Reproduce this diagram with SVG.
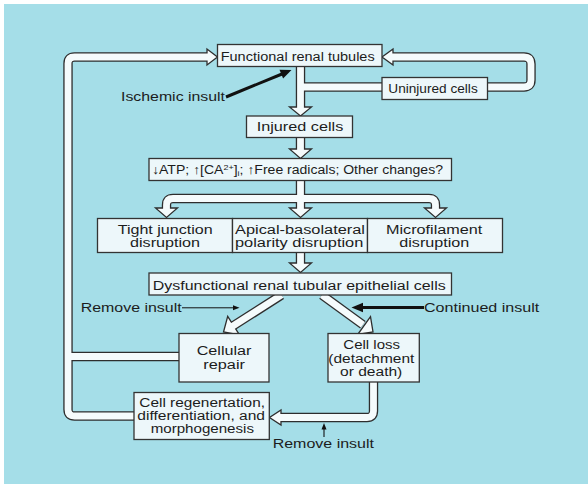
<svg xmlns="http://www.w3.org/2000/svg" width="588" height="484" viewBox="0 0 588 484">
<style>
.dk{fill:none;stroke:#2e2e2e;stroke-width:9.4;stroke-linejoin:miter}
.wt{fill:none;stroke:#f5fbfc;stroke-width:6.8;stroke-linejoin:miter}
.hd{fill:#f5fbfc;stroke:#2e2e2e;stroke-width:1.3;stroke-linejoin:miter}
.box{fill:#edf7fa;stroke:#333;stroke-width:1.3}
.t{font-family:"Liberation Sans",Arial,Helvetica,sans-serif;font-size:12.5px;fill:#1c1c1c}
.t2{font-size:12px}
.blk{stroke:#111;fill:none}
.blkh{fill:#111}
</style>
<rect x="0" y="0" width="588" height="484" fill="#ffffff"/>
<rect x="4" y="4" width="584" height="480" fill="#a5dee8"/>

<g id="connectors">
  <g id="thick-dark">
    <path class="dk" d="M300.5,66 V108.5"/>
    <path class="dk" d="M300.5,87 H382"/>
    <path class="dk" d="M487,87 H524 Q531,87 531,80 V64 Q531,57 524,57 H391.5"/>
    <path class="dk" d="M300.5,137.5 V150.5"/>
    <path class="dk" d="M300.5,180.5 V209.5"/>
    <path class="dk" d="M166.5,209.5 V205 Q166.5,198.5 173,198.5 H429 Q435.5,198.5 435.5,205 V209.5"/>
    <path class="dk" d="M300.5,252.5 V264.5"/>
    <path class="dk" d="M281.5,295 L232.3,326.4"/>
    <path class="dk" d="M322,295 L362.9,324.7"/>
    <path class="dk" d="M373.5,382 V411 Q373.5,417.5 367,417.5 H279.5"/>
    <path class="dk" d="M134,416 H74.5 Q68,416 68,409.5 V63.5 Q68,57 74.5,57 H208.5"/>
    <path class="dk" d="M179,356.5 H68"/>
  </g>
  <g id="heads">
    <polygon class="hd" points="289.5,107 311.5,107 300.5,116"/>
    <polygon class="hd" points="393,49 393,65 382,57"/>
    <polygon class="hd" points="289.5,149 311.5,149 300.5,158.5"/>
    <polygon class="hd" points="155.5,208 177.5,208 166.5,217.5"/>
    <polygon class="hd" points="289.5,208 311.5,208 300.5,217.5"/>
    <polygon class="hd" points="424.5,208 446.5,208 435.5,217.5"/>
    <polygon class="hd" points="289.5,263 311.5,263 300.5,272.5"/>
    <polygon class="hd" points="227.7,316.3 239.5,334.9 223.5,332"/>
    <polygon class="hd" points="357.7,334.5 370.5,316.7 373,332"/>
    <polygon class="hd" points="281,410 281,425 269.5,417.5"/>
    <polygon class="hd" points="207,49 207,65 217.5,57"/>
  </g>
  <g id="thick-light">
    <path class="wt" d="M300.5,66 V108.5"/>
    <path class="wt" d="M300.5,87 H382"/>
    <path class="wt" d="M487,87 H524 Q531,87 531,80 V64 Q531,57 524,57 H391.5"/>
    <path class="wt" d="M300.5,137.5 V150.5"/>
    <path class="wt" d="M300.5,180.5 V209.5"/>
    <path class="wt" d="M166.5,209.5 V205 Q166.5,198.5 173,198.5 H429 Q435.5,198.5 435.5,205 V209.5"/>
    <path class="wt" d="M300.5,252.5 V264.5"/>
    <path class="wt" d="M281.5,295 L232.3,326.4"/>
    <path class="wt" d="M322,295 L362.9,324.7"/>
    <path class="wt" d="M373.5,382 V411 Q373.5,417.5 367,417.5 H279.5"/>
    <path class="wt" d="M134,416 H74.5 Q68,416 68,409.5 V63.5 Q68,57 74.5,57 H208.5"/>
    <path class="wt" d="M179,356.5 H68"/>
  </g>
  <g id="insult-arrows">
    <line class="blk" x1="226" y1="97" x2="282" y2="74" stroke-width="3"/>
    <polygon class="blkh" points="291.5,70 283.1,78.6 279.5,69.8"/>
    <line class="blk" x1="424" y1="307.5" x2="362" y2="307.5" stroke-width="2.8"/>
    <polygon class="blkh" points="351.5,307.5 363,302.8 363,312.2"/>
    <line class="blk" x1="182" y1="307.8" x2="234" y2="307.8" stroke-width="1"/>
    <polygon class="blkh" points="239.5,307.8 233,305.3 233,310.3"/>
    <line class="blk" x1="324" y1="437" x2="324" y2="429" stroke-width="1.1"/>
    <polygon class="blkh" points="324,423 321.5,429.5 326.5,429.5"/>
  </g>
</g>

<g id="functional">
  <rect class="box" x="217.5" y="44.5" width="164.5" height="22"/>
  <text class="t" x="220.7" y="60.5" textLength="154" lengthAdjust="spacingAndGlyphs">Functional renal tubules</text>
</g>
<g id="uninjured">
  <rect class="box" x="382" y="77.5" width="105.5" height="22"/>
  <text class="t" x="388.3" y="92.5" textLength="89.4" lengthAdjust="spacingAndGlyphs">Uninjured cells</text>
</g>
<g id="ischemic-label">
  <text class="t" x="121" y="101" textLength="104" lengthAdjust="spacingAndGlyphs">Ischemic insult</text>
</g>
<g id="injured">
  <rect class="box" x="246.5" y="116" width="106" height="21.5"/>
  <text class="t" x="256.7" y="131" textLength="86.6" lengthAdjust="spacingAndGlyphs">Injured cells</text>
</g>
<g id="changes">
  <rect class="box" x="149" y="158.5" width="302.5" height="22"/>
  <text class="t" x="152" y="173.5" textLength="291" lengthAdjust="spacingAndGlyphs">↓ATP; ↑[CA<tspan font-size="8" dy="-4">2+</tspan><tspan dy="4">]</tspan><tspan font-size="8" dy="2">i</tspan><tspan dy="-2">; ↑Free radicals; Other changes?</tspan></text>
</g>
<g id="tight">
  <rect class="box" x="97.5" y="218.5" width="135" height="34"/>
  <text class="t t2" x="117.7" y="233.5" textLength="95" lengthAdjust="spacingAndGlyphs">Tight junction</text>
  <text class="t t2" x="130" y="246.8" textLength="70" lengthAdjust="spacingAndGlyphs">disruption</text>
</g>
<g id="apical">
  <rect class="box" x="232.5" y="218.5" width="135" height="34"/>
  <text class="t t2" x="235" y="233.5" textLength="130" lengthAdjust="spacingAndGlyphs">Apical-basolateral</text>
  <text class="t t2" x="235" y="246.8" textLength="128.3" lengthAdjust="spacingAndGlyphs">polarity disruption</text>
</g>
<g id="microfilament">
  <rect class="box" x="367.5" y="218.5" width="135" height="34"/>
  <text class="t t2" x="386" y="233.5" textLength="96.3" lengthAdjust="spacingAndGlyphs">Microfilament</text>
  <text class="t t2" x="399.3" y="246.8" textLength="70" lengthAdjust="spacingAndGlyphs">disruption</text>
</g>
<g id="dysfunctional">
  <rect class="box" x="149" y="273" width="302.5" height="22"/>
  <text class="t" x="152.7" y="289.5" textLength="293" lengthAdjust="spacingAndGlyphs">Dysfunctional renal tubular epithelial cells</text>
</g>
<g id="remove-insult-1">
  <text class="t" x="80.7" y="311.7" textLength="101" lengthAdjust="spacingAndGlyphs">Remove insult</text>
</g>
<g id="continued-insult">
  <text class="t" x="424" y="311.7" textLength="115.3" lengthAdjust="spacingAndGlyphs">Continued insult</text>
</g>
<g id="repair">
  <rect class="box" x="179" y="333.5" width="90" height="48.5"/>
  <text class="t t2" x="196.7" y="355.3" textLength="54.8" lengthAdjust="spacingAndGlyphs">Cellular</text>
  <text class="t t2" x="203.3" y="368.6" textLength="41.7" lengthAdjust="spacingAndGlyphs">repair</text>
</g>
<g id="cell-loss">
  <rect class="box" x="328" y="333.5" width="91.3" height="48.5"/>
  <text class="t" x="343.3" y="349.3" textLength="56.7" lengthAdjust="spacingAndGlyphs">Cell loss</text>
  <text class="t" x="328.3" y="362.7" textLength="86" lengthAdjust="spacingAndGlyphs">(detachment</text>
  <text class="t" x="340" y="375.7" textLength="62.3" lengthAdjust="spacingAndGlyphs">or death)</text>
</g>
<g id="regeneration">
  <rect class="box" x="134" y="392.5" width="135.3" height="47"/>
  <text class="t t2" x="139.3" y="406.8" textLength="125.7" lengthAdjust="spacingAndGlyphs">Cell regenertation,</text>
  <text class="t t2" x="137.3" y="420.1" textLength="127.7" lengthAdjust="spacingAndGlyphs">differentiation, and</text>
  <text class="t t2" x="150.7" y="433.4" textLength="103.3" lengthAdjust="spacingAndGlyphs">morphogenesis</text>
</g>
<g id="remove-insult-2">
  <text class="t" x="272.7" y="447.7" textLength="101.3" lengthAdjust="spacingAndGlyphs">Remove insult</text>
</g>
</svg>
